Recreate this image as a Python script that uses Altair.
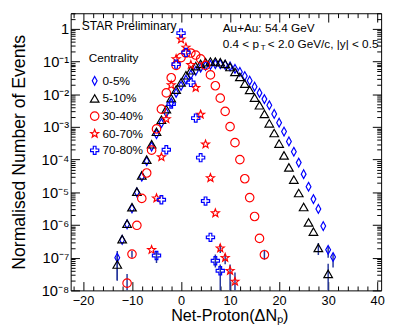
import altair as alt
import pandas as pd

FONT = "Liberation Sans"
W, H = 317, 283

centralities = ["0-5%", "5-10%", "30-40%", "60-70%", "70-80%"]
colors = ["#0000ff", "#000000", "#ff0000", "#ff0000", "#0000ff"]
ERR_COLOR = "#26369c"

# ---- data ----
x_0_5 = [-13, -12, -11, -10, -9, -8, -7, -6, -5, -4, -3, -2, -1, 0, 1, 2, 3, 4, 5, 6, 7, 8,
         9, 10, 11, 12, 13, 14, 15, 16, 17, 18, 19, 20, 21, 22, 23, 24, 25, 26, 27, 28, 29, 30, 31]
y_0_5 = [1.0e-7, 3.5e-7, 1.05e-6, 3.2e-6, 1.0e-5, 3.0e-5, 8.9e-5, 2.5e-4, 6.0e-4, 1.3e-3,
         2.7e-3, 5.6e-3, 1.1e-2, 1.8e-2, 2.8e-2, 4.0e-2, 5.2e-2, 6.5e-2, 7.4e-2, 7.9e-2,
         8.3e-2, 8.3e-2, 7.9e-2, 7.1e-2, 6.0e-2, 4.8e-2, 3.6e-2, 2.6e-2, 1.7e-2, 1.1e-2,
         7.1e-3, 4.6e-3, 2.5e-3, 1.35e-3, 7.2e-4, 3.6e-4, 1.74e-4, 8.1e-5, 3.6e-5, 1.48e-5,
         6.2e-6, 3.1e-6, 9.3e-7, 1.74e-7, 1.05e-7]

x_5_10 = [-13, -12, -11, -10, -9, -8, -7, -6, -5, -4, -3, -2, -1, 0, 1, 2, 3, 4, 5, 6, 7, 8,
          9, 10, 11, 12, 13, 14, 15, 16, 17, 18, 19, 20, 21, 22, 23, 24, 25, 26, 27, 28, 30]
y_5_10 = [6.2e-8, 3.7e-7, 1.1e-6, 3.5e-6, 1.05e-5, 3.3e-5, 1.0e-4, 2.95e-4, 7.1e-4, 1.66e-3,
          3.5e-3, 7.6e-3, 1.38e-2, 2.3e-2, 3.8e-2, 5.4e-2, 7.2e-2, 8.5e-2, 9.5e-2, 0.1,
          0.1, 9.5e-2, 8.5e-2, 6.8e-2, 4.8e-2, 3.4e-2, 2.1e-2, 1.35e-2, 7.9e-3, 4.6e-3,
          2.5e-3, 1.29e-3, 6.5e-4, 3.1e-4, 1.35e-4, 5.8e-5, 2.45e-5, 9.5e-6, 3.55e-6, 1.2e-6,
          6.3e-7, 2.0e-7, 3.2e-8]

x_30_40 = [-11, -10, -9, -8, -7, -6, -5, -4, -3, -2, -1, 0, 1, 2, 3, 4, 5, 6, 7, 8, 9, 10,
           11, 12, 13, 14, 15, 16, 17]
y_30_40 = [1.66e-8, 1.29e-7, 9.8e-7, 6.5e-6, 3.9e-5, 1.95e-4, 8.7e-4, 3.5e-3, 1.1e-2, 3.2e-2,
           7.6e-2, 0.132, 0.182, 0.182, 0.158, 0.12, 7.6e-2, 3.9e-2, 1.82e-2, 7.6e-3,
           3.0e-3, 1.02e-3, 3.3e-4, 1.0e-4, 2.6e-5, 6.9e-6, 1.82e-6, 3.9e-7, 1.23e-7]

x_60_70 = [-6, -5, -4, -3, -2, -1, 0, 1, 2, 3, 4, 5, 6, 7, 8, 9, 10, 11]
y_60_70 = [1.74e-7, 6.6e-6, 1.2e-4, 1.74e-3, 1.9e-2, 0.12, 0.48, 0.27, 7.9e-2, 1.58e-2,
           2.4e-3, 2.95e-4, 2.75e-5, 2.3e-6, 1.95e-7, 1.0e-7, 4.0e-8, 1.86e-8]

x_70_80 = [-5, -4, -3, -2, -1, 0, 1, 2, 3, 4, 5, 6, 7, 8]
y_70_80 = [1.17e-7, 5.9e-6, 2.0e-4, 5.0e-3, 8.3e-2, 0.74, 0.19, 2.3e-2, 1.86e-3, 1.15e-4,
           5.4e-6, 4.2e-7, 8.1e-8, 4.0e-8]

err_cent = ["0-5%", "5-10%", "30-40%", "30-40%", "30-40%", "5-10%", "0-5%", "0-5%",
            "5-10%", "60-70%", "60-70%", "60-70%", "60-70%", "70-80%", "70-80%", "70-80%"]
err_x = [-13, -13, -11, -10, 17, 28, 30, 31, 30, 8, 9, 10, 11, -5, 7, 8]
err_lo = [2.0e-8, 2.0e-8, 1.0e-8, 1.0e-7, 8.7e-8, 1.2e-7, 1.0e-7, 5.0e-8, 1.0e-8, 1.4e-7,
          6.3e-8, 1.0e-8, 1.0e-8, 6.9e-8, 5.0e-8, 1.0e-8]
err_hi = [1.6e-7, 1.1e-7, 3.2e-8, 1.6e-7, 1.74e-7, 2.8e-7, 2.3e-7, 1.4e-7, 6.5e-8, 2.6e-7,
          1.3e-7, 6.2e-8, 3.5e-8, 1.58e-7, 1.26e-7, 6.2e-8]

x_major = [-20, -10, 0, 10, 20, 30, 40]
x_minor = [-22, -18, -16, -14, -12, -8, -6, -4, -2, 2, 4, 6, 8, 12, 14, 16, 18,
           22, 24, 26, 28, 32, 34, 36, 38]
y_major = [1e-8, 1e-7, 1e-6, 1e-5, 1e-4, 1e-3, 1e-2, 1e-1, 1]
y_minor = [k * 10.0 ** e for e in range(-8, 1) for k in range(2, 10) if k * 10.0 ** e <= 3]

TXT_STAR = "STAR Preliminary"
TXT_SYS = "Au+Au: 54.4 GeV"
TXT_CUT1 = "0.4 < p"
TXT_CUT_SUB = "T"
TXT_CUT2 = "< 2.0 GeV/c, |y| < 0.5"
X_TITLE = "Net-Proton(ΔNₚ)"
Y_TITLE = "Normalised Number of Events"

# ---- tables ----
series = [(x_0_5, y_0_5), (x_5_10, y_5_10), (x_30_40, y_30_40), (x_60_70, y_60_70), (x_70_80, y_70_80)]
rows = []
for c, (xs, ys) in zip(centralities, series):
    for xv, yv in zip(xs, ys):
        rows.append({"x": xv, "y": yv, "cent": c})
pts = pd.DataFrame(rows)
err = pd.DataFrame({"x": err_x, "lo": err_lo, "hi": err_hi, "cent": err_cent})

diamond = "M0,-1L0.55,0L0,1L-0.55,0Z"
star = ("M0,-1L0.247,-0.34L0.951,-0.309L0.399,0.13L0.588,0.809L0,0.42"
        "L-0.588,0.809L-0.399,0.13L-0.951,-0.309L-0.247,-0.34Z")
cross = ("M-0.33,-1L0.33,-1L0.33,-0.33L1,-0.33L1,0.33L0.33,0.33L0.33,1L-0.33,1"
         "L-0.33,0.33L-1,0.33L-1,-0.33L-0.33,-0.33Z")
shapes = [diamond, "triangle-up", "circle", star, cross]
sizes = [80, 70, 46, 90, 64]

xscale = alt.Scale(domain=[-22.5, 40.8], nice=False, zero=False)
yscale = alt.Scale(type="log", domain=[1e-8, 3], nice=False)


def tick_axis(orient, offset, size, values):
    return alt.Axis(orient=orient, offset=offset, tickSize=size, values=values, labels=False,
                    title=None, domain=False, grid=False, ticks=True, tickColor="black",
                    tickWidth=1)


label_expr = ("datum.value > 0.5 ? '1' : '10' + ['', '⁻¹', '⁻²', '⁻³', '⁻⁴', '⁻⁵', '⁻⁶', '⁻⁷', '⁻⁸']"
              "[round(-log(datum.value) / LN10)]")

errbars = alt.Chart(err).mark_rule(color=ERR_COLOR, strokeWidth=1.5, clip=True).encode(
    x=alt.X("x:Q", scale=xscale, axis=alt.Axis(
        orient="bottom", values=x_major, ticks=False, domain=False, grid=False,
        labelFontSize=13, labelPadding=4, labelColor="black", title=X_TITLE,
        titleFontSize=16.5, titleFontWeight="normal", titleX=162, titleY=31,
        titleBaseline="alphabetic", titleAlign="center", titleColor="black")),
    y=alt.Y("lo:Q", scale=yscale, axis=alt.Axis(
        orient="left", values=y_major, ticks=False, domain=False, grid=False,
        labelExpr=label_expr, labelFontSize=15, labelPadding=2, labelColor="black",
        title=Y_TITLE, titleFontSize=18, titleFontWeight="normal", titleAngle=270,
        titleX=-47, titleY=141.5, titleBaseline="alphabetic", titleAlign="center",
        titleColor="black")),
    y2="hi:Q",
)

points = alt.Chart(pts).mark_point(filled=False, strokeWidth=1.2, opacity=1, clip=True).encode(
    x=alt.X("x:Q", scale=xscale, axis=tick_axis("top", -H, 9, x_major)),
    y=alt.Y("y:Q", scale=yscale, axis=tick_axis("right", -W, 9, y_major)),
    color=alt.Color("cent:N", scale=alt.Scale(domain=centralities, range=colors),
                    legend=alt.Legend(title="Centrality", orient="none", legendX=18.5,
                                      legendY=41)),
    shape=alt.Shape("cent:N", scale=alt.Scale(domain=centralities, range=shapes),
                    legend=alt.Legend(title="Centrality", orient="none", legendX=18.5,
                                      legendY=41)),
    size=alt.Size("cent:N", scale=alt.Scale(domain=centralities, range=sizes), legend=None),
)


def ghost(xaxis, yaxis):
    return alt.Chart(pts).mark_point(opacity=0).encode(
        x=alt.X("x:Q", scale=xscale, axis=xaxis),
        y=alt.Y("y:Q", scale=yscale, axis=yaxis),
    )


g1 = ghost(tick_axis("top", -H, 4.5, x_minor), tick_axis("right", -W, 4.5, y_minor))
g2 = ghost(tick_axis("bottom", -H, 9, x_major), tick_axis("left", -W, 9, y_major))
g3 = ghost(tick_axis("bottom", -H, 4.5, x_minor), tick_axis("left", -W, 4.5, y_minor))


def label(txt, px, py, size=12):
    return alt.Chart(pd.DataFrame({"t": [txt]})).mark_text(
        align="left", baseline="alphabetic", font=FONT, fontSize=size, color="black"
    ).encode(x=alt.value(px), y=alt.value(py), text="t:N")


texts = [
    label(TXT_STAR, 11.3, 17.5, 12.3),
    label(TXT_SYS, 155.3, 19.5, 12),
    label(TXT_CUT1, 155.3, 35, 12),
    label(TXT_CUT_SUB, 194, 37.5, 8),
    label(TXT_CUT2, 201.3, 35, 12),
]

chart = alt.layer(errbars, points, g1, g2, g3, *texts).resolve_axis(
    x="independent", y="independent"
).properties(
    width=W, height=H,
    padding={"left": 64, "top": 2, "right": 6, "bottom": 33},
    autosize=alt.AutoSizeParams(type="none"),
    background="white",
).configure_view(stroke="black", strokeWidth=1).configure_axis(
    labelFont=FONT, titleFont=FONT
).configure_legend(
    titleFont=FONT, labelFont=FONT, titleFontSize=12, titleFontWeight="normal",
    labelFontSize=12, symbolSize=56, symbolStrokeWidth=1.2, labelOffset=2,
    rowPadding=4, titlePadding=10, padding=0, titleColor="black", labelColor="black",
)

chart.save("out.html", embed_options={"renderer": "svg", "actions": False})
